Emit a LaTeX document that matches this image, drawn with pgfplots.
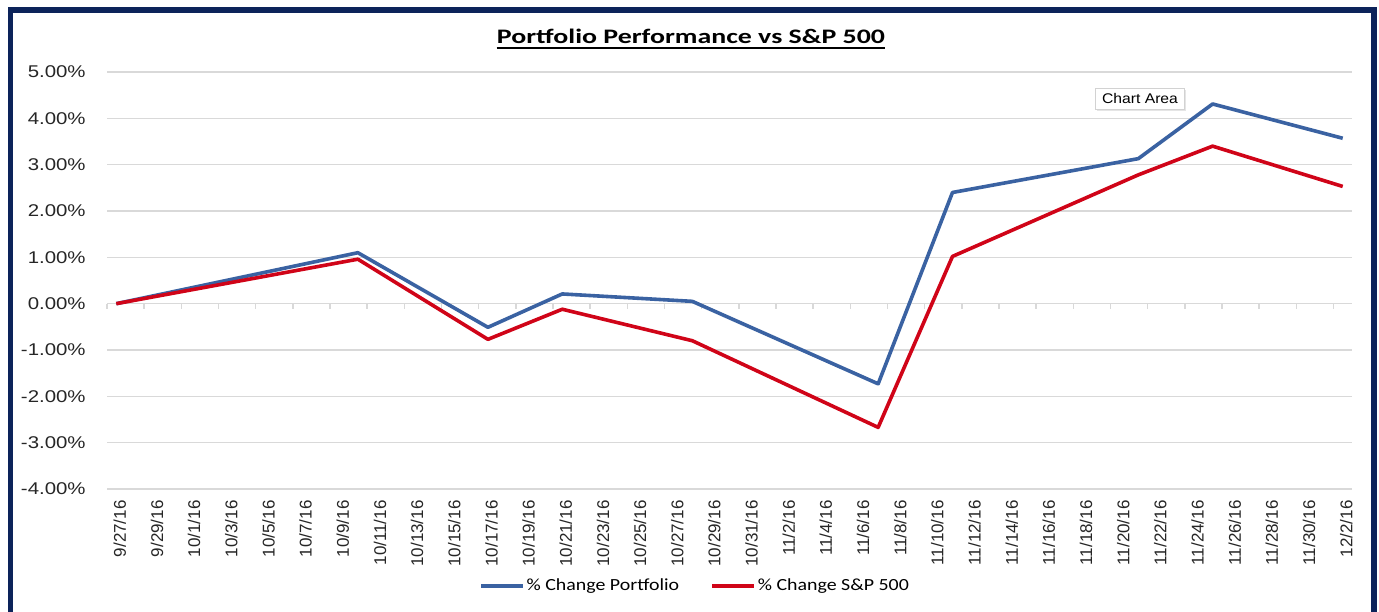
\documentclass[border=0pt]{standalone}
\usepackage{pgfplots}
\pgfplotsset{compat=1.18}
\usepackage{fontspec}
\setmainfont{Liberation Sans}
\newfontfamily\calibri{Carlito}
\usepackage{graphicx}
\usetikzlibrary{shadows}
\definecolor{pblue}{RGB}{58,98,162}
\definecolor{sred}{RGB}{208,4,24}
\definecolor{navy}{RGB}{12,35,90}
\definecolor{gridc}{RGB}{217,217,217}

\pgfplotstableread{
day val
0 0
13 1.10
20 -0.51
24 0.21
31 0.05
41 -1.73
45 2.40
55 3.13
59 4.31
66 3.57
}\portfolio

\pgfplotstableread{
day val
0 0
13 0.96
20 -0.77
24 -0.12
31 -0.80
41 -2.67
45 1.02
55 2.78
59 3.40
66 2.53
}\sandp

\begin{document}
\begin{tikzpicture}
\useasboundingbox (0pt,0pt) rectangle (689.5pt,305.5pt);
\fill[white] (0pt,0pt) rectangle (689.5pt,305.5pt);
\draw[navy, line width=2.6pt] (5.25pt,-10pt) -- (5.25pt,300.5pt) -- (687pt,300.5pt) -- (687pt,-10pt);

% tick marks on the zero line
\begin{axis}[
  at={(53.5pt,61pt)}, anchor=south west,
  scale only axis, width=622.5pt, height=208.5pt,
  xmin=-0.5, xmax=66.5, ymin=-4, ymax=5,
  axis x line=middle, axis y line=none,
  axis line style={draw=none},
  xtick={-0.5,1.5,...,65.5}, xticklabels={},
  xtick align=outside, major tick length=2.5pt,
  tick style={gridc, line width=0.75pt},
]
\addplot[draw=none] coordinates {(0,0)};
\end{axis}

\begin{axis}[
  at={(53.5pt,61pt)}, anchor=south west,
  scale only axis, width=622.5pt, height=208.5pt,
  xmin=-0.5, xmax=66.5, ymin=-4, ymax=5,
  axis line style={draw=none},
  major tick length=0pt,
  ymajorgrids, grid style={gridc, line width=0.75pt},
  ytick={-4,-3,...,5},
  yticklabels={\scalebox{1.2}[1]{-4.00\%},\scalebox{1.2}[1]{-3.00\%},\scalebox{1.2}[1]{-2.00\%},\scalebox{1.2}[1]{-1.00\%},\scalebox{1.2}[1]{0.00\%},\scalebox{1.2}[1]{1.00\%},\scalebox{1.2}[1]{2.00\%},\scalebox{1.2}[1]{3.00\%},\scalebox{1.2}[1]{4.00\%},\scalebox{1.2}[1]{5.00\%}},
  yticklabel style={anchor=east, inner sep=0pt, xshift=-10.5pt, font=\fontsize{8.5}{10}\selectfont, text=black!85},
  xtick={0,2,...,66},
  xticklabels={9/27/16,9/29/16,10/1/16,10/3/16,10/5/16,10/7/16,10/9/16,10/11/16,10/13/16,10/15/16,10/17/16,10/19/16,10/21/16,10/23/16,10/25/16,10/27/16,10/29/16,10/31/16,11/2/16,11/4/16,11/6/16,11/8/16,11/10/16,11/12/16,11/14/16,11/16/16,11/18/16,11/20/16,11/22/16,11/24/16,11/26/16,11/28/16,11/30/16,12/2/16},
  xticklabel style={yshift=-5.5pt, xshift=1.75pt, rotate=90, anchor=east, inner sep=0pt, font=\fontsize{8.5}{10}\selectfont, text=black!85},
  legend style={at={(0.4723,-0.2326)}, anchor=center, draw=none, fill=none,
    legend columns=2, inner sep=0pt,
    font=\calibri\fontsize{8.5}{10}\selectfont,
    nodes={inner sep=0.8pt},
    /tikz/every even column/.append style={column sep=15pt}},
  legend image code/.code={\draw[#1, line width=1.75pt] (0pt,0pt) -- (21pt,0pt);},
]
\addplot[pblue, line width=1.8pt, line join=round] table[x=day, y=val] {\portfolio};
\addlegendentry{\scalebox{1.17}[1]{\% Change Portfolio}}
\addplot[sred, line width=1.8pt, line join=round] table[x=day, y=val] {\sandp};
\addlegendentry{\scalebox{1.17}[1]{\% Change S\&P 500}}
\end{axis}

\node[anchor=base, inner sep=0pt] (T) at (345.5pt,283.85pt)
  {\calibri\bfseries\fontsize{10.3}{12}\selectfont\resizebox{194pt}{\height}{Portfolio Performance vs S\&P 500}};
\draw[line width=0.7pt] ([yshift=-2.3pt]T.base west) -- ([yshift=-2.3pt]T.base east);

\node[draw=gray!35, fill=white, inner sep=0pt, minimum width=44.5pt, minimum height=10.5pt,
  drop shadow={opacity=0.2, shadow xshift=0.6pt, shadow yshift=-1pt}]
  at (570pt,256.25pt) {\fontsize{7}{8}\selectfont\scalebox{1.12}[1]{Chart Area}};
\end{tikzpicture}
\end{document}
